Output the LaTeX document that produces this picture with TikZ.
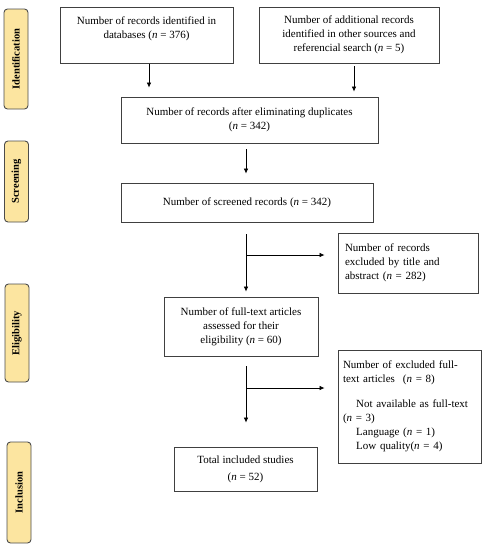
\documentclass[tikz,border=0pt]{standalone}
\usepackage{fontspec}
\setmainfont{Liberation Serif}
\usetikzlibrary{arrows.meta}
\definecolor{stagefill}{RGB}{252,229,160}
\begin{document}
\begin{tikzpicture}[x=1pt,y=-1pt,font=\fontsize{11}{14}\selectfont,
	box/.style={draw=black!75,line width=0.9pt,align=center,inner sep=2pt},
	sidebox/.style={draw=black!75,line width=0.9pt,align=left,inner ysep=2pt},
	stage/.style={draw=black!70,fill=stagefill,rounded corners=3.5pt,line width=0.9pt,
		minimum height=24pt,rotate=90,font=\bfseries\fontsize{10.5}{12}\selectfont},
	arr/.style={-{Latex[length=5pt,width=4.5pt]},line width=0.7pt}]
	\useasboundingbox (0,0) rectangle (486,550);
	% stages
	\node[stage,minimum width=100pt] at (16,59)(idf){Identification};
	\node[stage,minimum width=81pt] at (16.5,181.5)(scr){Screening};
	\node[stage,minimum width=98pt] at (17,333)(elg){Eligibility};
	\node[stage,minimum width=101pt] at (19,492.5)(inc){Inclusion};
	% boxes
	\node[box,minimum width=173pt,minimum height=56pt] at (146.5,35)(db)
		{Number of records identified in\\databases (\textit{n} = 376)\\\mbox{}};
	\node[box,minimum width=180pt,minimum height=56pt] at (349,35)(add)
		{Number of additional records\\identified in other sources and\\referencial search (\textit{n} = 5)};
	\node[box,minimum width=257pt,minimum height=46pt] at (249.5,120)(dup)
		{Number of records after eliminating duplicates\\(\textit{n} = 342)};
	\node[box,minimum width=252pt,minimum height=39pt] at (247,202.5)(scrd)
		{Number of screened records (\textit{n} = 342)};
	\node[sidebox,inner xsep=7pt,text width=126pt,minimum height=60pt] at (408,263)(excl)
		{Number of records\\excluded by title and\\abstract (\textit{n} = 282)};
	\node[box,minimum width=154pt,minimum height=59pt] at (241,326.5)(full)
		{Number of full-text articles\\assessed for their\\eligibility (\textit{n} = 60)};
	\node[sidebox,inner xsep=5pt,text width=133pt,minimum height=113pt] at (409.5,406.5)(exft)
		{Number of excluded full-\\text articles\hspace{8pt}(\textit{n} = 8)\\[11pt]
		\hspace*{1.2em}Not available as full-text\\(\textit{n} = 3)\\
		\hspace*{1.2em}Language (\textit{n} = 1)\\\hspace*{1.2em}Low quality(\textit{n} = 4)};
	\node[box,minimum width=143pt,minimum height=44pt] at (245.5,469)(tot)
		{Total included studies\\[3pt](\textit{n} = 52)};
	% branch points
	\coordinate (s1) at (246,255);
	\coordinate (s2) at (246,388);
	% arrows
	\draw[arr,shorten <=1pt,shorten >=9pt] ([xshift=2.5pt]db.south) -- ([xshift=2.5pt]db.south |- dup.north);
	\draw[arr,shorten <=3pt,shorten >=5pt] ([xshift=5pt]add.south) -- ([xshift=5pt]add.south |- dup.north);
	\draw[arr,shorten <=6pt,shorten >=9pt] (dup.south -| s1) -- (scrd.north -| s1);
	\draw[arr,shorten <=12pt,shorten >=5pt] (scrd.south -| s1) -- (full.north -| s1);
	\draw[arr,shorten >=13pt] (s1) -- (s1 -| excl.west);
	\draw[arr,shorten <=10pt,shorten >=24pt] (full.south -| s2) -- (tot.north -| s2);
	\draw[arr,shorten >=13pt] (s2) -- (s2 -| exft.west);
\end{tikzpicture}
\end{document}
